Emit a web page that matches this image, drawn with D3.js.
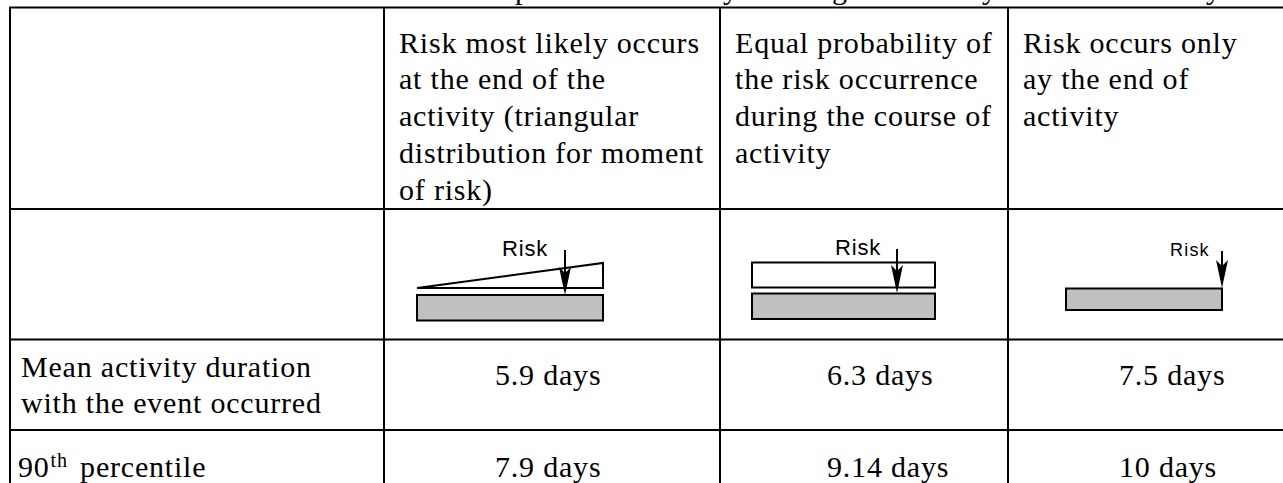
<!DOCTYPE html>
<html><head><meta charset="utf-8">
<script src="https://cdn.jsdelivr.net/npm/d3@7"></script>
<style>html,body{margin:0;padding:0;background:#fff;overflow:hidden}</style>
</head><body>
<svg id="c" width="1283" height="483" style="font-family:'Liberation Serif',serif"></svg>
<script>
// ---- data ----
const headerCol1 = ["Risk most likely occurs","at the end of the","activity (triangular","distribution for moment","of risk)"];
const headerCol2 = ["Equal probability of","the risk occurrence","during the course of","activity"];
const headerCol3 = ["Risk occurs only","ay the end of","activity"];
const rowLabelMean = ["Mean activity duration","with the event occurred"];
const rowLabelP90 = ["90","th"," percentile"];
const meanDuration = [5.9, 6.3, 7.5];
const p90Duration = [7.9, 9.14, 10];
const unit = "days";
const iconLabel = "Risk";
const captionParts = ["Table 3. Results of the com","parison of activit","y under","given risk","by end of activit","y"];

// ---- layout ----
const W = 1283, H = 483;
const svg = d3.select("#c");
svg.append("rect").attr("width",W).attr("height",H).attr("fill","#fff");
const colX = d3.scaleOrdinal().domain(d3.range(5)).range([10, 384, 720, 1008, 1320]);
const rowY = d3.scaleOrdinal().domain(d3.range(5)).range([7.5, 209, 339.5, 430, 530]);
const SERIF = "'Liberation Serif', serif";
const SANS = "'Liberation Sans', sans-serif";
const FS = 30, LS = 0.8, LH = 36.7;

function txt(x, y, s, opts={}) {
  return svg.append("text")
    .attr("x", x).attr("y", y)
    .style("font-family", opts.family || SERIF)
    .style("font-size", (opts.size || FS) + "px")
    .style("letter-spacing", (opts.ls != null ? opts.ls : LS) + "px")
    .attr("text-anchor", opts.anchor || "start")
    .attr("fill", "#000")
    .text(s);
}

// caption (cut off at top of picture; only descenders visible)
{
  const capX = [515, 515, 723, 832, 967, 1206];
  const t = svg.append("text").attr("y", -1)
    .style("font-family", SERIF).style("font-size", FS + "px")
    .style("letter-spacing", "0px").attr("fill","#000");
  const spans = captionParts.map(p => t.append("tspan").text(p));
  let firstLen = 0.42 * FS * captionParts[0].length;
  try { firstLen = spans[0].node().getComputedTextLength(); } catch(e) {}
  spans.forEach((s,i) => s.attr("x", i===0 ? capX[0] - firstLen - 2 : capX[i]));
}

// grid lines
const gl = svg.append("g").attr("stroke","#000").attr("stroke-width",2);
d3.range(4).forEach(r => gl.append("line")
  .attr("x1", colX(0)-1).attr("x2", W+10).attr("y1", rowY(r)).attr("y2", rowY(r)));
d3.range(4).forEach(c => gl.append("line")
  .attr("x1", colX(c)).attr("x2", colX(c)).attr("y1", rowY(0)).attr("y2", H+10));

// headers
[headerCol1, headerCol2, headerCol3].forEach((lines, ci) => {
  lines.forEach((l, li) => txt(colX(ci+1)+15, 52.7 + li*LH, l));
});

// icons
const GRAY = "#c0c0c0";
function arrow(x, y0, y1) {
  svg.append("line").attr("x1",x).attr("x2",x).attr("y1",y0).attr("y2",y1-6)
    .attr("stroke","#000").attr("stroke-width",2);
  svg.append("path")
    .attr("d", `M${x-6},${y1-28} L${x},${y1-22} L${x+6},${y1-28} L${x},${y1} Z`)
    .attr("fill","#000");
}
// icon 1: triangular
{
  const L = colX(1)+33, R = colX(1)+219;
  svg.append("path").attr("d", `M${L},288 L${R},263 L${R},288 Z`)
    .attr("fill","#fff").attr("stroke","#000").attr("stroke-width",2).attr("stroke-linejoin","miter");
  svg.append("rect").attr("x",L).attr("y",295).attr("width",R-L).attr("height",25.5)
    .attr("fill",GRAY).attr("stroke","#000").attr("stroke-width",2);
  arrow(colX(1)+181, 250, 295);
  txt(colX(1)+118, 256, iconLabel, {family:SANS, size:22, ls:0.8});
}
// icon 2: uniform
{
  const L = colX(2)+32, R = colX(2)+215;
  svg.append("rect").attr("x",L).attr("y",262.5).attr("width",R-L).attr("height",25)
    .attr("fill","#fff").attr("stroke","#000").attr("stroke-width",2);
  svg.append("rect").attr("x",L).attr("y",293.5).attr("width",R-L).attr("height",25.5)
    .attr("fill",GRAY).attr("stroke","#000").attr("stroke-width",2);
  arrow(colX(2)+177, 249, 293);
  txt(colX(2)+115, 255, iconLabel, {family:SANS, size:22, ls:0.8});
}
// icon 3: end
{
  const L = colX(3)+58, R = colX(3)+214;
  svg.append("rect").attr("x",L).attr("y",288.5).attr("width",R-L).attr("height",21.5)
    .attr("fill",GRAY).attr("stroke","#000").attr("stroke-width",2);
  arrow(R, 251, 288);
  txt(colX(3)+162, 256, iconLabel, {family:SANS, size:18, ls:1.2});
}

// row labels
rowLabelMean.forEach((l, li) => txt(colX(0)+11, 377 + li*36, l));
{
  const t = svg.append("text").attr("x", colX(0)+8).attr("y", 477)
    .style("font-family", SERIF).style("font-size", FS + "px")
    .style("letter-spacing", LS + "px").attr("fill","#000");
  t.append("tspan").text(rowLabelP90[0]);
  t.append("tspan").style("font-size", "20px").attr("dx", 1).attr("dy", -10).text(rowLabelP90[1]);
  t.append("tspan").attr("dx", 4).attr("dy", 10).text(rowLabelP90[2]);
}

// values
const valueX = d3.scaleOrdinal().domain([0,1,2]).range([495, 827, 1119]);
meanDuration.forEach((v,i)=> txt(valueX(i), 385, `${v} ${unit}`));
p90Duration.forEach((v,i)=> txt(valueX(i), 477, `${v} ${unit}`));
</script>
</body></html>
